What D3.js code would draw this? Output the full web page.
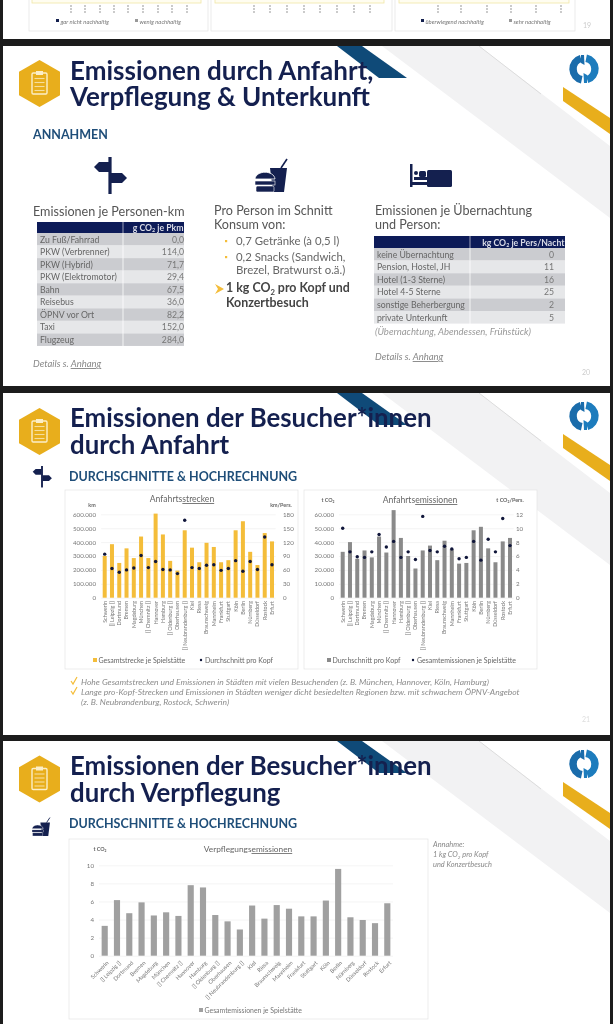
<!DOCTYPE html>
<html><head><meta charset="utf-8">
<script src="https://cdn.jsdelivr.net/npm/d3@7"></script>
<style>
html,body{margin:0;padding:0;background:#1a1a1a;overflow:hidden}
svg{display:block;filter:blur(.3px)}
text{font-family:Lato,"Open Sans",sans-serif}
</style></head><body>
<script>
const cities=["Schwerin","[] Leipzig []","Dortmund","Bremen","Magdeburg","München","[] Chemnitz []","Hannover","Hamburg","[] Oldenburg []","Oberhausen","[] Neubrandenburg []","Kiel","Riesa","Braunschweig","Mannheim","Frankfurt","Stuttgart","Köln","Berlin","Nürnberg","Düsseldorf","Rostock","Erfurt"];
const strecken=[300000,385000,250000,355000,285000,440000,285000,605000,455000,265000,195000,485000,360000,255000,395000,365000,255000,270000,485000,550000,330000,235000,465000,405000];
const kmProKopf=[94,63,55,60,64,91,65,78,61,60,52,167,65,63,70,71,59,63,80,57,78,61,131,71];
const emissionen=[33000,40000,28000,34000,29000,44000,32500,63000,43000,30000,21000,34000,37500,27000,41000,35000,24500,25000,48500,51000,35500,25500,40500,43000];
const tProKopf=[10,6.6,5.9,5.8,6.6,9.1,7.3,8.1,5.8,6.6,5.5,11.7,6.8,6.6,7.4,7,5.6,5.8,8.1,5.4,8.4,6.6,11.4,7.5];
const verpflegung=[3.3,6.15,4.7,5.9,4.45,4.8,4.4,7.8,7.55,4.5,3.8,2.9,5.55,4.1,5.6,5.2,4.35,4.35,6.1,9.6,4.25,3.95,3.6,5.8];
const pkmLabels=["Zu Fuß/Fahrrad","PKW (Verbrenner)","PKW (Hybrid)","PKW (Elektromotor)","Bahn","Reisebus","ÖPNV vor Ort","Taxi","Flugzeug"];
const pkmValues=["0,0","114,0","71,7","29,4","67,5","36,0","82,2","152,0","284,0"];
const nachtLabels=["keine Übernachtung","Pension, Hostel, JH","Hotel (1-3 Sterne)","Hotel 4-5 Sterne","sonstige Beherbergung","private Unterkunft"];
const nachtValues=["0","11","16","25","2","5"];

const W=613,H=1024;
const NAVY="#14204f",BLUE="#1f4e79",GOLD="#e8ae1c",YEL="#f4bd3a",TXT="#5f6368",DARKGREY="#8a8a8a";
const svg=d3.select("body").append("svg").attr("width",W).attr("height",H);
svg.append("rect").attr("width",W).attr("height",H).attr("fill","#1c1c1c");

function T(g,x,y,s,o={}){
  const t=g.append("text").attr("x",x).attr("y",y).attr("font-size",o.size||8).attr("fill",o.fill||TXT)
    .attr("font-weight",o.bold?700:400).attr("font-style",o.italic?"italic":"normal").attr("text-anchor",o.anchor||"start");
  (Array.isArray(s)?s:[s]).forEach(p=>{
    if(typeof p==="string")t.append("tspan").text(p);
    else{const sp=t.append("tspan").text(p.t);
      if(p.sub)sp.attr("font-size",(o.size||8)*.62).attr("dy",(o.size||8)*.22);
      if(p.after)sp.attr("dy",-(o.size||8)*.22);
      if(p.u)sp.attr("text-decoration","underline");}
  });
  return t;
}
const CO2=[ "CO",{t:"2",sub:true} ];

function poly(g,pts,fill){g.append("polygon").attr("points",pts.map(p=>p.join(",")).join(" ")).attr("fill",fill);}

function slideBg(top,bottom){
  const g=svg.append("g");
  g.append("rect").attr("x",3).attr("y",top).attr("width",607).attr("height",bottom-top).attr("fill","#fff");
  const clip="c"+top;
  g.append("clipPath").attr("id",clip).append("rect").attr("x",3).attr("y",top).attr("width",607).attr("height",bottom-top);
  const d=g.append("g").attr("clip-path",`url(#${clip})`);
  poly(d,[[382,top],[479,top],[610,top+100],[610,top+172]],"#f2f2f3");
  d.append("line").attr("x1",479).attr("y1",top).attr("x2",541).attr("y2",top+48).attr("stroke","#dcdcdc").attr("stroke-width",1);
  poly(d,[[337,top],[362,top],[407,top+32],[379,top+32]],"#0f4a78");
  poly(d,[[563,top+41],[610,top+72],[610,top+88],[563,top+55]],GOLD);
  return g;
}
function hexIcon(g,cy){
  const cx=39.5,hw=20.5,hh=23.5;
  poly(g,[[cx,cy-hh],[cx+hw,cy-hh*.5],[cx+hw,cy+hh*.5],[cx,cy+hh],[cx-hw,cy+hh*.5],[cx-hw,cy-hh*.5]],GOLD);
  g.append("rect").attr("x",cx-7.5).attr("y",cy-10.5).attr("width",15).attr("height",21).attr("rx",1.2).attr("fill","none").attr("stroke","#fbeec8").attr("stroke-width",1.4);
  g.append("rect").attr("x",cx-3.5).attr("y",cy-12.5).attr("width",7).attr("height",4).attr("fill","#fbeec8");
  d3.range(4).forEach(i=>g.append("line").attr("x1",cx-5).attr("x2",cx+5).attr("y1",cy-5+i*4).attr("y2",cy-5+i*4).attr("stroke","#fbeec8").attr("stroke-width",1.1).attr("opacity",.75));
}
function logo(g,cy){
  const a=d3.arc().innerRadius(7.2).outerRadius(14.7);
  const n=g.append("g").attr("transform",`translate(584,${cy})`);
  n.append("path").attr("d",a({startAngle:.2,endAngle:2.85})).attr("fill","#1d7cbd");
  n.append("path").attr("d",a({startAngle:3.35,endAngle:6.0})).attr("fill","#1a6cab");
  poly(n,[[-3,-14],[0,-14],[0.5,-4],[-3,-6]],"#1a6cab");
  poly(n,[[0,14],[3,14],[3,6],[-.5,4]],"#1d7cbd");
}
function signIcon(g,x,y,k){
  const n=g.append("g").attr("transform",`translate(${x},${y}) scale(${k})`).attr("fill",NAVY);
  n.append("rect").attr("x",-1.6).attr("y",0).attr("width",3.2).attr("height",37);
  poly(n,[[-1,5],[-11,5],[-16,10],[-11,15],[-1,15]],NAVY);
  poly(n,[[1,16],[12,16],[17,21],[12,26],[1,26]],NAVY);
}
function foodIcon(g,x,y,k){
  const n=g.append("g").attr("transform",`translate(${x},${y}) scale(${k})`).attr("fill",NAVY);
  poly(n,[[15,10],[32,10],[29,34],[18,34]],NAVY);
  n.append("line").attr("x1",26).attr("y1",10).attr("x2",32).attr("y2",1).attr("stroke",NAVY).attr("stroke-width",1.6);
  n.append("path").attr("d","M0,21 C1,12 19,12 20,21 Z").attr("stroke","#fff").attr("stroke-width",.8);
  n.append("rect").attr("x",0).attr("y",23).attr("width",20).attr("height",4).attr("stroke","#fff").attr("stroke-width",.6);
  n.append("rect").attr("x",1).attr("y",28).attr("width",18).attr("height",6).attr("rx",1.5).attr("stroke","#fff").attr("stroke-width",.6);
}
function bedIcon(g,x,y){
  const n=g.append("g").attr("transform",`translate(${x},${y})`).attr("fill",NAVY);
  n.append("rect").attr("x",0).attr("y",0).attr("width",2.5).attr("height",23);
  n.append("rect").attr("x",0).attr("y",18).attr("width",42).attr("height",3);
  n.append("rect").attr("x",17).attr("y",6).attr("width",25).attr("height",17).attr("rx",1.5);
  n.append("circle").attr("cx",6).attr("cy",9).attr("r",2);
  n.append("rect").attr("x",9).attr("y",7).attr("width",7).attr("height",6).attr("rx",1.5);
  n.append("rect").attr("x",4).attr("y",13).attr("width",13).attr("height",3);
}

/* ---------- fragment of slide 19 ---------- */
(function(){
  const g=svg.append("g");
  g.append("rect").attr("x",3).attr("y",0).attr("width",607).attr("height",39).attr("fill","#fff");
  [[29,179],[211,181],[395,180]].forEach(p=>g.append("rect").attr("x",p[0]).attr("y",-2).attr("width",p[1]).attr("height",33).attr("fill","#fff").attr("stroke","#e3e3e3").attr("stroke-width",.7));
  [[32,169],[215,169],[399,170]].forEach(p=>g.append("rect").attr("x",p[0]).attr("y",-3).attr("width",p[1]).attr("height",6).attr("fill","#fffdf0").attr("stroke","#efe6a6").attr("stroke-width",.8));
  const marks=[71,85,100,114,128,143,158,172,187,254,270,287,304,320,337,354,370,438,461,487,511,536,561];
  g.selectAll("line.m").data(marks).join("line").attr("x1",d=>d).attr("x2",d=>d).attr("y1",5).attr("y2",14).attr("stroke","#b5b5b5").attr("stroke-width",1.4).attr("stroke-dasharray","2 1");
  [[56,"gar nicht nachhaltig",NAVY],[135,"wenig nachhaltig","#999"],[421,"überwiegend nachhaltig",NAVY],[509,"sehr nachhaltig","#999"]].forEach(d=>{
    g.append("rect").attr("x",d[0]).attr("y",19).attr("width",3).attr("height",3).attr("fill",d[2]);
    T(g,d[0]+4.5,24,d[1],{size:5.9,italic:true,fill:"#777"});
  });
  T(g,587,28,"19",{size:7,fill:"#ccc",anchor:"middle"});
})();

/* ---------- slide 20 ---------- */
function table(g,x0,xm,x1,yH,hH,step,head,labels,values,size,valX){
  g.append("rect").attr("x",x0).attr("y",yH).attr("width",x1-x0).attr("height",hH).attr("fill","#0d1b58");
  g.append("line").attr("x1",xm).attr("x2",xm).attr("y1",yH).attr("y2",yH+hH).attr("stroke","#fff").attr("stroke-width",.6);
  T(g,x1-.5,yH+hH-2.5,head,{size:size,fill:"#d9dbe6",anchor:"end",bold:true});
  labels.forEach((l,i)=>{
    const y=yH+hH+i*step;
    const fill=i%2?"#e6e7e9":"#cbccd0";
    g.append("rect").attr("x",x0).attr("y",y).attr("width",xm-x0-.4).attr("height",step).attr("fill",fill);
    g.append("rect").attr("x",xm+.4).attr("y",y).attr("width",x1-xm-.4).attr("height",step).attr("fill",fill);
    T(g,x0+3,y+step-3,l,{size:size,fill:"#666"});
    T(g,valX,y+step-3,values[i],{size:size,fill:"#777",anchor:"end"});
  });
}
(function(){
  const g=slideBg(46,386);
  hexIcon(g,83.5);logo(g,69);
  T(g,70,80,"Emissionen durch Anfahrt,",{size:26,bold:true,fill:NAVY});
  T(g,70,106,"Verpflegung & Unterkunft",{size:26,bold:true,fill:NAVY});
  T(g,33,139,"ANNAHMEN",{size:12.5,bold:true,fill:BLUE});
  signIcon(g,110,157,1);foodIcon(g,255,158,1);bedIcon(g,410,164);
  const hs=12.6;
  T(g,33,216,"Emissionen je Personen-km",{size:hs,fill:"#555"});
  table(g,37,123,184,222,11,12.55,["g ",...CO2,{t:" je Pkm",after:true}],pkmLabels,pkmValues,8.7,184);
  T(g,33,367,"Details s. ",{size:9.5,italic:true,fill:"#888"}).append("tspan").text("Anhang").attr("text-decoration","underline");
  T(g,214,215,"Pro Person im Schnitt",{size:hs,fill:"#555"});
  T(g,214,229,"Konsum von:",{size:hs,fill:"#555"});
  [[245,"0,7 Getränke (à  0,5 l)",true],[261,"0,2 Snacks (Sandwich,",true],[273.5,"Brezel, Bratwurst o.ä.)",false]].forEach(d=>{
    if(d[2])g.append("rect").attr("x",225).attr("y",d[0]-5).attr("width",2.2).attr("height",2.2).attr("fill",YEL);
    T(g,236,d[0],d[1],{size:11.4,fill:"#666"});
  });
  poly(g,[[215,284],[224,289],[215,294],[218,289]],YEL);
  T(g,226,292,["1 kg ",...CO2,{t:" pro Kopf und",after:true}],{size:12.4,bold:true,fill:"#444"});
  T(g,226,306.5,"Konzertbesuch",{size:12.4,bold:true,fill:"#444"});
  T(g,375,215,"Emissionen je Übernachtung",{size:hs,fill:"#555"});
  T(g,375,229,"und Person:",{size:hs,fill:"#555"});
  table(g,374,470,565,236,12,12.6,["kg ",...CO2,{t:" je  Pers/Nacht",after:true}],nachtLabels,nachtValues,8.7,554);
  T(g,375,335,"(Übernachtung, Abendessen, Frühstück)",{size:9.5,italic:true,fill:"#999"});
  T(g,375,360,"Details s. ",{size:9.5,italic:true,fill:"#888"}).append("tspan").text("Anhang").attr("text-decoration","underline");
  T(g,586,375,"20",{size:7,fill:"#ccc",anchor:"middle"});
})();

/* ---------- combo charts ---------- */
function panel(g,x,y,w,h){g.append("rect").attr("x",x).attr("y",y).attr("width",w).attr("height",h).attr("fill","#fff").attr("stroke","#e4e4e4").attr("stroke-width",.7);}
const fmt=d=>d3.format(",")(d).replace(/,/g,".");

function combo(g,o){
  const step=(o.xLast-o.xFirst)/23;
  const x=d3.scaleBand().domain(cities).range([o.xFirst-step/2,o.xLast+step/2]).paddingInner(.45).paddingOuter(.225);
  const yL=d3.scaleLinear().domain(o.domL).range([597.7,514.3]);
  const yR=d3.scaleLinear().domain(o.domR).range([597.7,514.3]);
  const grid=g.append("g").attr("transform",`translate(${o.xFirst-step/2},0)`)
    .call(d3.axisLeft(yL).tickValues(o.ticksL).tickSize(-(o.xLast-o.xFirst+step)).tickFormat(""));
  grid.select(".domain").remove();
  grid.selectAll("line").attr("stroke","#ececec").attr("stroke-width",.6);
  g.selectAll(null).data(o.bars).join("rect").attr("x",(d,i)=>x(cities[i])).attr("width",x.bandwidth())
    .attr("y",d=>yL(d)).attr("height",d=>597.7-yL(d)).attr("fill",o.color);
  g.selectAll(null).data(o.dots).join("circle").attr("cx",(d,i)=>x(cities[i])+x.bandwidth()/2).attr("cy",d=>yR(d)).attr("r",1.7).attr("fill","#10163a");
  const aL=g.append("g").attr("transform",`translate(${o.labL},0)`).call(d3.axisLeft(yL).tickValues(o.ticksL).tickSize(0).tickPadding(0).tickFormat(fmt));
  aL.select(".domain").remove();
  aL.selectAll("text").attr("font-size",6.2).attr("fill","#777").attr("font-family","Lato");
  const aR=g.append("g").attr("transform",`translate(${o.labR},0)`).call(d3.axisRight(yR).tickValues(o.ticksR).tickSize(0).tickPadding(0).tickFormat(d3.format("d")));
  aR.select(".domain").remove();
  aR.selectAll("text").attr("font-size",6.2).attr("fill","#777").attr("font-family","Lato");
  const aX=g.append("g").attr("transform","translate(0,598)").call(d3.axisBottom(x).tickSize(0).tickPadding(3));
  aX.select(".domain").remove();
  aX.selectAll("text").attr("font-size",5.4).attr("fill","#777").attr("font-family","Lato")
    .attr("text-anchor","end").attr("transform","rotate(-90)").attr("dx",0).attr("x",-3).attr("y",0).attr("dy",".35em");
  T(g,o.titleX,o.titleY,o.title,{size:8.6,anchor:"middle",fill:"#666"});
  T(g,o.unitLX,o.unitY,o.unitL,{size:5.4,anchor:"middle",fill:"#666",bold:true});
  T(g,o.unitRX,o.unitY,o.unitR,{size:5.4,anchor:"middle",fill:"#666",bold:true});
  g.append("rect").attr("x",o.legX).attr("y",658).attr("width",4).attr("height",4).attr("fill",o.color);
  T(g,o.legX+5.5,662.5,o.leg1,{size:7,fill:"#666"});
  g.append("circle").attr("cx",o.legDot).attr("cy",660).attr("r",1.2).attr("fill","#10163a");
  T(g,o.legDot+4,662.5,o.leg2,{size:7,fill:"#666"});
}

/* ---------- slide 21 ---------- */
(function(){
  const g=slideBg(393,735);
  hexIcon(g,431.5);logo(g,416);
  T(g,70,427,"Emissionen der Besucher*innen",{size:25.8,bold:true,fill:NAVY});
  T(g,70,454,"durch Anfahrt",{size:25.8,bold:true,fill:NAVY});
  signIcon(g,42,466,.58);
  T(g,69,481,"DURCHSCHNITTE & HOCHRECHNUNG",{size:12.5,bold:true,fill:BLUE});
  panel(g,65,490,233,179);panel(g,304,490,233,179);
  combo(g,{xFirst:104.7,xLast:272,domL:[0,600000],domR:[0,180],ticksL:d3.range(0,600001,100000),ticksR:d3.range(0,181,30),
    bars:strecken,dots:kmProKopf,color:YEL,labL:96,labR:283,titleX:182,titleY:502,unitY:507,
    title:["Anfahrts",{t:"strecken",u:true}],unitL:"km",unitLX:92,unitR:"km/Pers.",unitRX:281,legX:93,legDot:201,
    leg1:"Gesamtstrecke je Spielstätte",leg2:"Durchschnitt pro Kopf"});
  combo(g,{xFirst:342.7,xLast:510,domL:[0,60000],domR:[0,12],ticksL:d3.range(0,60001,10000),ticksR:d3.range(0,13,2),
    bars:emissionen,dots:tProKopf,color:DARKGREY,labL:334,labR:516,titleX:420,titleY:503,unitY:502,
    title:["Anfahrts",{t:"emissionen",u:true}],unitL:["t ",...CO2],unitLX:328,unitR:["t ",...CO2,{t:"/Pers.",after:true}],unitRX:510,legX:327,legDot:413,
    leg1:"Durchschnitt pro Kopf",leg2:"Gesamtemissionen je Spielstätte"});
  const notes=[[685,"Hohe Gesamtstrecken und Emissionen  in Städten mit vielen Besuchenden (z. B. München, Hannover, Köln, Hamburg)",true],
    [695,"Lange pro-Kopf-Strecken und Emissionen in Städten weniger dicht besiedelten Regionen bzw. mit schwachem ÖPNV-Angebot",true],
    [705,"(z. B. Neubrandenburg, Rostock, Schwerin)",false]];
  notes.forEach(d=>{
    if(d[2])g.append("path").attr("d",`M71,${d[0]-4} L73,${d[0]-1} L77,${d[0]-8}`).attr("fill","none").attr("stroke",YEL).attr("stroke-width",1.2);
    T(g,81,d[0],d[1],{size:8.5,italic:true,fill:"#8c8c8c"});
  });
  T(g,586,722,"21",{size:7,fill:"#ddd",anchor:"middle"});
})();

/* ---------- slide 22 ---------- */
(function(){
  const g=slideBg(741,1024);
  hexIcon(g,779);logo(g,764);
  T(g,70,775,"Emissionen der Besucher*innen",{size:25.8,bold:true,fill:NAVY});
  T(g,70,802,"durch Verpflegung",{size:25.8,bold:true,fill:NAVY});
  foodIcon(g,32,817,.56);
  T(g,69,828,"DURCHSCHNITTE & HOCHRECHNUNG",{size:12.5,bold:true,fill:BLUE});
  panel(g,69,839,359,180);
  const step=(387.3-104.7)/23;
  const x=d3.scaleBand().domain(cities).range([104.7-step/2,387.3+step/2]).paddingInner(.5).paddingOuter(.25);
  const y=d3.scaleLinear().domain([0,10]).range([955.7,865.3]);
  const ticks=d3.range(0,11,2);
  const gr=g.append("g").attr("transform","translate(99,0)").call(d3.axisLeft(y).tickValues(ticks).tickSize(-294).tickFormat(""));
  gr.select(".domain").remove();
  gr.selectAll("line").attr("stroke","#ececec").attr("stroke-width",.6);
  g.selectAll(null).data(verpflegung).join("rect").attr("x",(d,i)=>x(cities[i])).attr("width",x.bandwidth())
    .attr("y",d=>y(d)).attr("height",d=>955.7-y(d)).attr("fill","#a0a0a0");
  const aY=g.append("g").attr("transform","translate(94,0)").call(d3.axisLeft(y).tickValues(ticks).tickSize(0).tickPadding(0));
  aY.select(".domain").remove();
  aY.selectAll("text").attr("font-size",6.2).attr("fill","#777").attr("font-family","Lato");
  const aX=g.append("g").attr("transform","translate(0,959)").call(d3.axisBottom(x).tickSize(0).tickPadding(3));
  aX.select(".domain").remove();
  aX.selectAll("text").attr("font-size",5.6).attr("fill","#777").attr("font-family","Lato")
    .attr("text-anchor","end").attr("transform","rotate(-45)").attr("x",0).attr("y",5).attr("dy",".2em").attr("dx",0);
  T(g,248,852,["Verpflegungs",{t:"emissionen",u:true}],{size:8.3,anchor:"middle",fill:"#666"});
  T(g,100,851,["t ",...CO2],{size:5.4,anchor:"middle",fill:"#666",bold:true});
  g.append("rect").attr("x",199).attr("y",1008).attr("width",4).attr("height",4).attr("fill","#a0a0a0");
  T(g,204.5,1012.5,"Gesamtemissionen je Spielstätte",{size:6.9,fill:"#777"});
  T(g,433,847,"Annahme:",{size:7.4,italic:true,fill:"#888"});
  T(g,433,857,["1 kg ",...CO2,{t:" pro Kopf",after:true}],{size:7.4,italic:true,fill:"#888"});
  T(g,433,867,"und Konzertbesuch",{size:7.4,italic:true,fill:"#888"});
})();
</script>
</body></html>
